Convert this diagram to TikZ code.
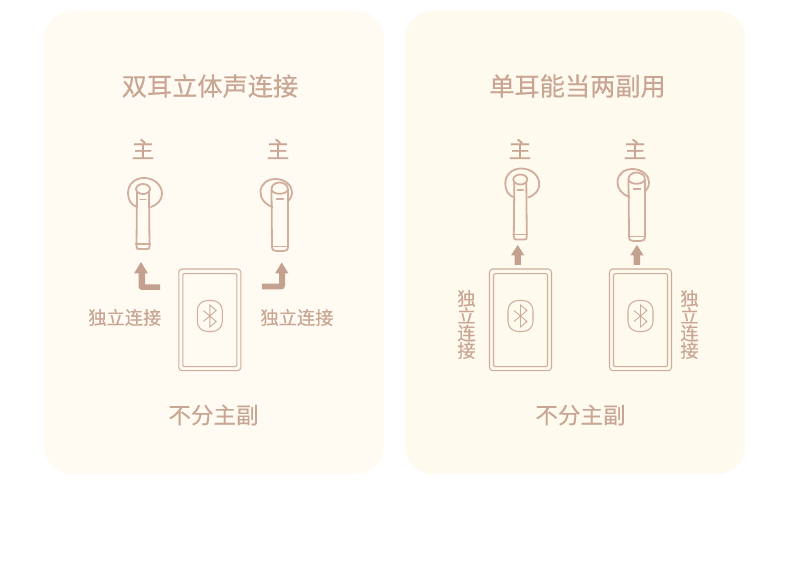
\documentclass[tikz,border=0pt]{standalone}
\usepackage{fontspec}
\setmainfont{Noto Sans CJK SC}[RawFeature={embolden=0.3}]
\definecolor{panelL}{HTML}{FFFBF2}
\definecolor{panelR}{HTML}{FFFAEE}
\definecolor{ink}{HTML}{C9A694}
\definecolor{arrowc}{HTML}{C4A08F}
\definecolor{linec}{HTML}{D0AE9E}
\tikzset{
  x=0.75pt,y=-0.75pt,
  title/.style={text=ink,inner sep=0pt,font=\fontsize{18.9pt}{22pt}\selectfont},
  foot/.style={text=ink,inner sep=0pt,font=\fontsize{16.9pt}{20pt}\selectfont},
  mainlbl/.style={text=ink,inner sep=0pt,font=\fontsize{17pt}{20pt}\selectfont},
  conn/.style={text=ink,inner sep=0pt,font=\fontsize{13.7pt}{16pt}\selectfont},
  connv/.style={text=ink,inner sep=0pt,align=center,font=\fontsize{13.7pt}{13pt}\selectfont},
  bud/.style={draw=linec,line width=1.35pt,line join=round,line cap=round,fill=none},
  budthin/.style={draw=linec,line width=0.9pt,line cap=round},
  phoneouter/.style={draw=linec,line width=0.8pt,rounded corners=2.5pt},
  phoneinner/.style={draw=linec,line width=0.8pt,rounded corners=1pt},
  btbox/.style={draw=linec,line width=0.8pt,rounded corners=7.5pt},
  btsym/.style={draw=linec,line width=0.7pt,line join=miter},
  arrowfill/.style={fill=arrowc,draw=none},
}
% small earbud: origin = centre of its head
\newcommand{\budA}[1]{\begin{scope}[shift={(#1)}]
  \draw[bud] (-6,18) .. controls (-12,16) and (-15,11) .. (-15,4)
     .. controls (-15,-5) and (-8,-11) .. (1,-11)
     .. controls (11,-11) and (19,-4) .. (19,5)
     .. controls (19,11) and (14,16) .. (8,18);
  \draw[bud] (-6,3) -- (-6.5,57) .. controls (-6.5,60) and (-5.5,60) .. (-4,60)
     -- (4,60) .. controls (6,60) and (6.5,60) .. (6.5,57) -- (6,3);
  \draw[budthin] (-7.5,55) -- (7.5,55);
  \draw[bud] (0,0) ellipse [x radius=7,y radius=5];
  \draw[budthin] (-3,10.5) -- (3,10.5);
\end{scope}}
% large earbud: origin = centre of its head
\newcommand{\budB}[1]{\begin{scope}[shift={(#1)}]
  \draw[bud] (-7,18) .. controls (-15,15) and (-19,10) .. (-19,3)
     .. controls (-19,-5) and (-12,-10) .. (-4,-10)
     .. controls (5,-10) and (12.5,-4) .. (12.5,3)
     .. controls (12.5,7) and (11,10) .. (9,12);
  \draw[bud] (-8,1) -- (-7.5,57) .. controls (-7.5,61) and (-6,62) .. (-3,62)
     -- (4,62) .. controls (7,62) and (8.5,61) .. (8.5,57) -- (8.5,1);
  \draw[budthin] (-7,57.5) -- (8,57.5);
  \draw[bud] (-8,1) .. controls (-8.5,-4) and (-4,-6.5) .. (0,-6.5)
     .. controls (4,-6.5) and (9,-4) .. (8.5,1) .. controls (6,6) and (-6,6) .. (-8,1);
  \draw[budthin] (-3,10) -- (4,10);
\end{scope}}
% phone with bluetooth badge: origin = centre
\newcommand{\phone}[1]{\begin{scope}[shift={(#1)}]
  \draw[phoneouter] (-31,-47) rectangle (31,54.7);
  \draw[phoneinner] (-27,-42.3) rectangle (27,50.7);
  \draw[btbox] (-12.5,-15.5) rectangle (12.5,15.5);
  \draw[btsym] (-6.5,-5.5) -- (6.5,5.5) -- (0,11) -- (0,-11) -- (6.5,-5.5) -- (-6.5,5.5);
\end{scope}}
\begin{document}
\begin{tikzpicture}
\useasboundingbox (0,0) rectangle (790,577);
\fill[white] (0,0) rectangle (790,577);
\fill[panelL,rounded corners=21pt] (44,11) rectangle (384,474);
\fill[panelR,rounded corners=21pt] (405,11) rectangle (745,474);

\node[title] (t1) at (210,86) {双耳立体声连接};
\node[title] (t2) at (577.5,86) {单耳能当两副用};
\node[foot] (f1) at (213.5,415) {不分主副};
\node[foot] (f2) at (580.5,415) {不分主副};

\node[mainlbl] (m1) at (143,149) {主};
\node[mainlbl] (m2) at (278,149) {主};
\node[mainlbl] (m3) at (520,149) {主};
\node[mainlbl] (m4) at (635,149) {主};

\budA{143,189}
\budB{279.5,189}
\budA{520.3,179.5}
\budB{636.5,179}

\phone{209.8,316}
\phone{520.5,316}
\phone{640.5,316}

% arrows
\fill[arrowfill] (141,262) -- (148,273.5) -- (145,273.5) -- (145,284.5) -- (160,284.5) -- (160,290)
  -- (142,290) .. controls (140,290) and (138.5,288.5) .. (138.5,286.5) -- (138.5,273.5) -- (134,273.5) -- cycle;
\fill[arrowfill] (281.7,262.5) -- (288.5,273.5) -- (285,273.5) -- (285,285.5)
  .. controls (285,288) and (283.5,289.5) .. (281,289.5) -- (262,289.5) -- (262,283.7) -- (279,283.7)
  -- (279,273.5) -- (275,273.5) -- cycle;
\fill[arrowfill] (517.7,245) -- (524.5,255.5) -- (520.9,255.5) -- (520.9,265) -- (514.5,265) -- (514.5,255.5) -- (511,255.5) -- cycle;
\fill[arrowfill] (636.9,245) -- (643.7,255.5) -- (640.1,255.5) -- (640.1,265) -- (633.7,265) -- (633.7,255.5) -- (630.2,255.5) -- cycle;

\node[conn] (c1) at (124.8,317.5) {独立连接};
\node[conn] (c2) at (297,317.5) {独立连接};
\node[connv] (c3) at (466.5,324.5) {独\\立\\连\\接};
\node[connv] (c4) at (689.5,324.5) {独\\立\\连\\接};
\end{tikzpicture}
\end{document}
